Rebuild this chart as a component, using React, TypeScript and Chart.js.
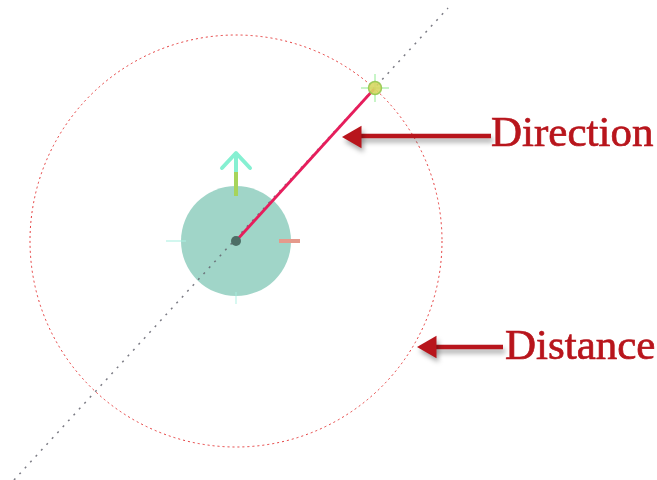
import React, { useEffect, useRef } from "react";
import { Chart, registerables } from "chart.js";

Chart.register(...registerables);

// Diagram data (in a 657 x 480 coordinate space, y pointing down)
const centerPoint = { x: 236, y: 241 };
const targetPoint = { x: 375, y: 88 };
const diagonalLine = [
  { x: 14, y: 480 },
  { x: 448, y: 8 },
];
const distanceRadius = 206;
const bodyRadius = 55;
const upArrowShaft = [
  { x: 236, y: 154 },
  { x: 236, y: 172 },
];
const upArrowHead = [
  { x: 222, y: 168 },
  { x: 236, y: 153 },
  { x: 250, y: 168 },
];
const greenTick = [
  { x: 236, y: 170 },
  { x: 236, y: 196 },
];
const redTick = [
  { x: 279, y: 241 },
  { x: 300, y: 241 },
];
const leftTick = [
  { x: 166, y: 241 },
  { x: 186, y: 241 },
];
const bottomTick = [
  { x: 236, y: 292 },
  { x: 236, y: 304 },
];
const crossH = [
  { x: 361, y: 88 },
  { x: 389, y: 88 },
];
const crossV = [
  { x: 375, y: 74 },
  { x: 375, y: 102 },
];
const directionArrow = [
  { x: 358, y: 136 },
  { x: 491, y: 136 },
];
const directionTip = [{ x: 355, y: 137 }];
const distanceArrow = [
  { x: 432, y: 347 },
  { x: 503, y: 347 },
];
const distanceTip = [{ x: 430, y: 347 }];
const labels = [
  { text: "Direction", x: 491, y: 146 },
  { text: "Distance", x: 505, y: 359 },
];

const DARK_RED = "#b8151c";

export default function App() {
  const ref = useRef<HTMLCanvasElement>(null);

  useEffect(() => {
    const canvas = ref.current;
    if (!canvas) return;

    const shadowSets = new Set([8, 9, 10, 11]);

    const diagramPlugin = {
      id: "diagram",
      beforeDatasetsDraw(chart: any) {
        const { ctx, scales } = chart;
        const xs = scales.x;
        const ys = scales.y;
        const cx = xs.getPixelForValue(centerPoint.x);
        const cy = ys.getPixelForValue(centerPoint.y);
        const r = xs.getPixelForValue(centerPoint.x + distanceRadius) - cx;
        ctx.save();
        ctx.strokeStyle = "rgba(225,40,40,0.9)";
        ctx.lineWidth = 1;
        ctx.setLineDash([2, 3]);
        ctx.beginPath();
        ctx.arc(cx, cy, r, 0, Math.PI * 2);
        ctx.stroke();
        ctx.restore();
      },
      beforeDatasetDraw(chart: any, args: any) {
        if (shadowSets.has(args.index)) {
          const ctx = chart.ctx;
          ctx.save();
          ctx.shadowColor = "rgba(0,0,0,0.35)";
          ctx.shadowBlur = 5;
          ctx.shadowOffsetX = 2;
          ctx.shadowOffsetY = 4;
        }
      },
      afterDatasetDraw(chart: any, args: any) {
        if (shadowSets.has(args.index)) {
          chart.ctx.restore();
        }
      },
      afterDatasetsDraw(chart: any) {
        const { ctx, scales } = chart;
        ctx.save();
        ctx.fillStyle = DARK_RED;
        ctx.strokeStyle = DARK_RED;
        ctx.lineWidth = 0.7;
        ctx.font = "43px 'Liberation Serif', 'Times New Roman', serif";
        ctx.textBaseline = "alphabetic";
        ctx.textAlign = "left";
        for (const l of labels) {
          const px = scales.x.getPixelForValue(l.x);
          const py = scales.y.getPixelForValue(l.y);
          ctx.fillText(l.text, px, py);
          ctx.strokeText(l.text, px, py);
        }
        ctx.restore();
      },
    };

    const line = (data: any[], color: string, width: number, order: number, extra: any = {}) => ({
      type: "line" as const,
      data,
      showLine: true,
      borderColor: color,
      borderWidth: width,
      pointRadius: 0,
      fill: false,
      tension: 0,
      order,
      clip: false,
      ...extra,
    });

    const chart = new Chart(canvas, {
      type: "scatter",
      data: {
        datasets: [
          // 0 teal body disk
          {
            data: [centerPoint],
            pointRadius: bodyRadius,
            pointBackgroundColor: "rgba(150,208,194,0.9)",
            pointBorderColor: "rgba(150,208,194,0.9)",
            pointBorderWidth: 0,
            order: 100,
            clip: false,
          } as any,
          // 1 diagonal dotted line
          line(diagonalLine, "rgba(100,100,110,0.85)", 1.5, 90, { borderDash: [2, 6] }),
          // 2 ticks
          line(leftTick, "rgba(170,240,225,0.7)", 1.5, 80),
          line(bottomTick, "rgba(170,240,225,0.6)", 1.5, 80),
          line(redTick, "#e59a8c", 4, 80),
          line(greenTick, "#a6d45a", 4, 79),
          line(upArrowShaft, "#86f0d2", 4, 78),
          line(upArrowHead, "#86f0d2", 4, 78, { borderCapStyle: "round", borderJoinStyle: "round" }),
          // 8-11 annotation arrows (with shadow)
          line(directionArrow, DARK_RED, 4.5, 60),
          {
            data: directionTip,
            pointStyle: "triangle",
            rotation: -90,
            pointRadius: 13,
            pointBackgroundColor: DARK_RED,
            pointBorderColor: DARK_RED,
            pointBorderWidth: 0,
            order: 59,
            clip: false,
          } as any,
          line(distanceArrow, DARK_RED, 4.5, 60),
          {
            data: distanceTip,
            pointStyle: "triangle",
            rotation: -90,
            pointRadius: 13,
            pointBackgroundColor: DARK_RED,
            pointBorderColor: DARK_RED,
            pointBorderWidth: 0,
            order: 59,
            clip: false,
          } as any,
          // 12 direction line
          line([centerPoint, targetPoint], "#e61e5c", 2.8, 40),
          // 13 center dot
          {
            data: [centerPoint],
            pointRadius: 5,
            pointBackgroundColor: "#4d6e66",
            pointBorderWidth: 0,
            order: 30,
            clip: false,
          } as any,
          // 14-15 crosshair at target
          line(crossH, "rgba(150,235,150,0.7)", 1.5, 35),
          line(crossV, "rgba(150,235,150,0.7)", 1.5, 35),
          // 16 target point
          {
            data: [targetPoint],
            pointRadius: 6.5,
            pointBackgroundColor: "rgba(215,215,100,0.9)",
            pointBorderColor: "rgba(150,200,80,0.9)",
            pointBorderWidth: 1.5,
            order: 20,
            clip: false,
          } as any,
        ],
      },
      options: {
        responsive: false,
        animation: false,
        events: [],
        layout: { padding: 0, autoPadding: false },
        plugins: {
          legend: { display: false },
          tooltip: { enabled: false },
          title: { display: false },
        },
        scales: {
          x: { type: "linear", min: 0, max: 657, display: false },
          y: { type: "linear", min: 0, max: 480, reverse: true, display: false },
        },
      },
      plugins: [diagramPlugin],
    });

    return () => chart.destroy();
  }, []);

  return (
    <div style={{ position: "fixed", left: 0, top: 0, width: 657, height: 480, background: "#fff" }}>
      <canvas ref={ref} width={657} height={480} style={{ display: "block" }} />
    </div>
  );
}
